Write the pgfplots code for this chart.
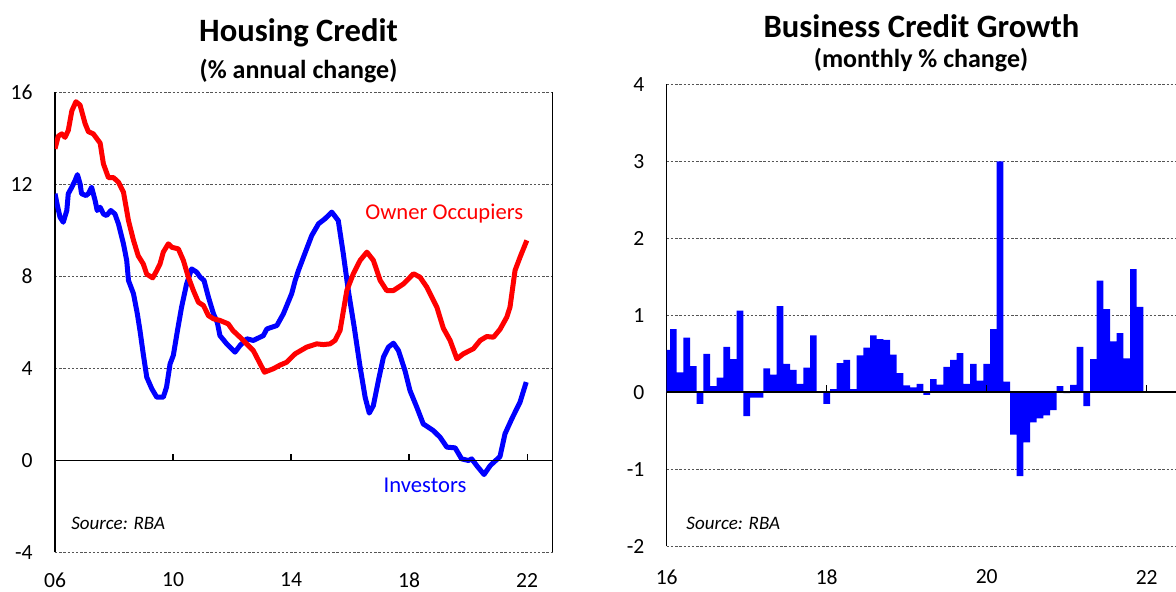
\documentclass[border=0pt]{standalone}
\usepackage{fontspec}
\setmainfont{Carlito}
\usepackage{pgfplots}
\pgfplotsset{compat=1.18}
\definecolor{gridc}{HTML}{555555}
\pgfplotsset{
  common/.style={
    scale only axis, anchor=south west,
    tick style={draw=none}, major tick length=0pt,
    ymajorgrids, grid style={gridc, line width=0.5pt, dash pattern=on 1.2pt off 0.9pt},
    separate axis lines,
    x axis line style={draw=none},
    y axis line style={black, line width=0.6pt},
    ticklabel style={font=\fontsize{10.8}{12}\selectfont, inner sep=0pt},
    yticklabel style={anchor=east, xshift=-11pt},
    /pgf/number format/assume math mode=true,
  }
}
\begin{document}
\begin{tikzpicture}
\path[use as bounding box] (0,0) rectangle (588pt,296pt);
\begin{axis}[common,
  at={(27.5pt,19.75pt)}, width=248.75pt, height=230pt,
  xmin=6, xmax=22.86, ymin=-4, ymax=16,
  xtick={6,10,14,18,22}, xticklabels={06,10,14,18,22},
  ytick={-4,0,4,8,12,16},
  xticklabel style={anchor=center, yshift=-13.75pt},
]
\addplot[blue, line width=2.5pt, line join=round] table {
6.00 11.60
6.08 11.09
6.17 10.58
6.28 10.36
6.40 10.87
6.45 11.60
6.57 11.88
6.68 12.17
6.76 12.43
6.85 12.03
6.90 11.60
7.05 11.52
7.13 11.60
7.24 11.88
7.36 11.30
7.43 10.87
7.53 11.01
7.64 10.72
7.75 10.65
7.89 10.87
8.03 10.72
8.15 10.29
8.32 9.42
8.43 8.70
8.49 7.83
8.66 7.25
8.79 6.38
8.88 5.65
8.99 4.64
9.11 3.62
9.28 3.12
9.45 2.75
9.67 2.75
9.78 3.19
9.90 4.20
10.01 4.57
10.15 5.65
10.29 6.67
10.46 7.68
10.63 8.33
10.80 8.19
10.92 7.97
11.05 7.83
11.20 7.10
11.37 6.38
11.50 6.00
11.59 5.43
11.82 5.07
12.10 4.71
12.27 5.00
12.50 5.29
12.72 5.22
13.06 5.43
13.18 5.72
13.52 5.87
13.74 6.38
14.02 7.25
14.14 7.83
14.25 8.26
14.42 8.84
14.70 9.78
14.93 10.29
15.15 10.51
15.38 10.80
15.60 10.43
15.77 8.99
15.94 7.39
16.14 5.80
16.34 4.06
16.51 2.75
16.65 2.06
16.79 2.39
16.96 3.48
17.13 4.49
17.30 4.93
17.47 5.10
17.64 4.78
17.86 3.91
18.03 3.04
18.26 2.32
18.48 1.59
18.82 1.30
19.05 1.01
19.28 0.58
19.56 0.55
19.78 0.07
20.01 0.00
20.12 0.07
20.29 -0.22
20.54 -0.61
20.75 -0.22
21.08 0.17
21.25 1.16
21.48 1.81
21.76 2.54
21.97 3.41
};
\addplot[red, line width=2.5pt, line join=round] table {
6.00 13.55
6.11 14.10
6.23 14.20
6.34 14.05
6.45 14.35
6.57 15.20
6.71 15.60
6.85 15.45
7.02 14.65
7.13 14.30
7.30 14.20
7.53 13.80
7.64 12.90
7.81 12.30
7.98 12.30
8.15 12.10
8.32 11.67
8.49 10.43
8.66 9.57
8.82 8.90
8.99 8.55
9.11 8.10
9.31 7.94
9.45 8.26
9.56 8.55
9.67 9.06
9.84 9.42
9.96 9.27
10.18 9.20
10.35 8.70
10.52 7.97
10.69 7.39
10.86 6.88
11.03 6.74
11.20 6.30
11.37 6.16
11.59 6.09
11.87 5.94
12.03 5.65
12.27 5.36
12.72 4.78
13.10 3.84
13.40 3.99
13.63 4.15
13.85 4.27
14.14 4.64
14.53 4.93
14.87 5.07
15.10 5.04
15.32 5.07
15.49 5.22
15.66 5.65
15.89 7.39
16.11 8.12
16.34 8.70
16.57 9.06
16.79 8.70
17.02 7.83
17.24 7.39
17.47 7.39
17.81 7.68
18.15 8.12
18.37 7.97
18.60 7.54
18.94 6.67
19.16 5.75
19.39 5.22
19.62 4.42
19.84 4.64
20.18 4.86
20.41 5.22
20.63 5.39
20.86 5.36
21.08 5.70
21.31 6.23
21.42 6.67
21.59 8.26
21.76 8.84
21.99 9.57
};
\draw[black, line width=0.8pt] (axis cs:6,0) -- (axis cs:22.86,0);
\pgfplotsinvokeforeach{10,14,18,22}{\draw[black, line width=0.6pt] (axis cs:#1,0) -- (axis cs:#1,0.3);}
\node[red, font=\fontsize{11.3}{13}\selectfont] at (axis cs:19.19,10.72) {Owner Occupiers};
\node[blue, font=\fontsize{11.3}{13}\selectfont] at (axis cs:18.54,-1.09) {Investors};
\node[anchor=west, inner sep=0pt, font=\itshape\fontsize{9.5}{11}\selectfont] at (axis cs:6.54,-2.74) {Source: RBA};
\end{axis}

\begin{axis}[common,
  at={(333.35pt,22.85pt)}, width=260pt, height=231pt,
  xmin=0, xmax=78, ymin=-2, ymax=4,
  xtick={0,24,48,72}, xticklabels={16,18,20,22},
  ytick={-2,-1,0,1,2,3,4},
  xticklabel style={anchor=center, yshift=-15.35pt},
]
\addplot[ybar, bar width=1, fill=blue, draw=none] table {
0 0.55
1 0.82
2 0.26
3 0.71
4 0.34
5 -0.15
6 0.50
7 0.08
8 0.19
9 0.59
10 0.43
11 1.06
12 -0.31
13 -0.07
14 -0.07
15 0.31
16 0.23
17 1.12
18 0.37
19 0.29
20 0.11
21 0.32
22 0.74
23 0.01
24 -0.15
25 0.04
26 0.38
27 0.42
28 0.04
29 0.48
30 0.58
31 0.74
32 0.69
33 0.68
34 0.49
35 0.25
36 0.09
37 0.065
38 0.11
39 -0.035
40 0.17
41 0.10
42 0.33
43 0.42
44 0.51
45 0.11
46 0.37
47 0.15
48 0.37
49 0.82
50 3.00
51 0.14
52 -0.55
53 -1.09
54 -0.65
55 -0.39
56 -0.34
57 -0.30
58 -0.23
59 0.08
60 -0.01
61 0.095
62 0.59
63 -0.18
64 0.43
65 1.45
66 1.08
67 0.66
68 0.77
69 0.44
70 1.60
71 1.11
};
\draw[black, line width=0.8pt] (axis cs:0,0) -- (axis cs:78,0);
\pgfplotsinvokeforeach{24,48,72}{\draw[black, line width=0.6pt] (axis cs:#1,0) -- (axis cs:#1,0.09);}
\node[anchor=west, inner sep=0pt, font=\itshape\fontsize{9.5}{11}\selectfont] at (axis cs:2.9,-1.70) {Source: RBA};
\end{axis}

\node[font=\bfseries\fontsize{16.3}{18}\selectfont] at (149.25pt,279.5pt) {Housing Credit};
\node[font=\bfseries\fontsize{13}{15}\selectfont] at (149.25pt,260.5pt) {(\% annual change)};
\node[font=\bfseries\fontsize{16.3}{18}\selectfont] at (460.75pt,283pt) {Business Credit Growth};
\node[font=\bfseries\fontsize{13}{15}\selectfont] at (460.5pt,266pt) {(monthly \% change)};
\end{tikzpicture}
\end{document}
